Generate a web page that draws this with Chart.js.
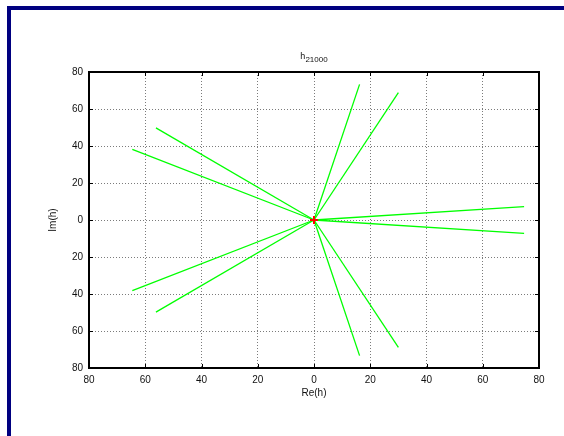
<!DOCTYPE html>
<html>
<head>
<meta charset="utf-8">
<script src="https://cdn.jsdelivr.net/npm/chart.js@4"></script>
<style>
  html, body { margin: 0; padding: 0; background: #fff; }
  #wrap { position: relative; width: 564px; height: 436px; overflow: hidden; }
  #frame {
    position: absolute; left: 7px; top: 6px; width: 600px; height: 500px;
    border-top: 4px solid #000080; border-left: 4px solid #000080;
    pointer-events: none;
  }
  canvas { position: absolute; left: 0; top: 0; }
</style>
</head>
<body>
<div id="wrap">
  <canvas id="c" width="564" height="436"></canvas>
  <div id="frame"></div>
</div>
<script>
// Roots of h plotted as rays from the origin in the complex plane
const reParts = [-56.2, -64.6, 16.2, 30.0, 74.7, 74.7, 30.0, 16.2, -64.6, -56.2];
const imParts = [49.8, 38.2, 73.3, 68.8, 7.2, -7.2, -68.8, -73.3, -38.2, -49.8];
const origin = { x: 0, y: 0 };

// Axis ticks (labels are printed as magnitudes)
const tickValues = [-80, -60, -40, -20, 0, 20, 40, 60, 80];
const tickLabels = ['80', '60', '40', '20', '0', '20', '40', '60', '80'];

const titleMain = 'h';
const titleSub = '21000';
const xTitle = 'Re(h)';
const yTitle = 'Im(h)';

const FONT = 'Liberation Sans, Arial, Helvetica, sans-serif';

const rayDatasets = reParts.map((re, i) => ({
  data: [origin, { x: re, y: imParts[i] }],
  showLine: true,
  borderColor: '#00ff00',
  borderWidth: 1.3,
  pointRadius: 0,
  order: 1
}));

const originDataset = {
  data: [origin],
  pointStyle: 'cross',
  pointRadius: 4,
  borderColor: '#ff0000',
  backgroundColor: '#ff0000',
  borderWidth: 2,
  order: 0
};

// Box border, mirrored inward tick marks and subscripted title
const boxPlugin = {
  id: 'box',
  afterDraw(chart) {
    const { ctx, chartArea: a, scales } = chart;
    ctx.save();
    ctx.strokeStyle = '#000';
    ctx.lineWidth = 1;
    const tl = 4;
    tickValues.forEach(v => {
      const px = Math.round(scales.x.getPixelForValue(v)) + 0.5;
      const py = Math.round(scales.y.getPixelForValue(v)) + 0.5;
      ctx.beginPath();
      ctx.moveTo(px, a.bottom); ctx.lineTo(px, a.bottom - tl);
      ctx.moveTo(px, a.top); ctx.lineTo(px, a.top + tl);
      ctx.moveTo(a.left, py); ctx.lineTo(a.left + tl, py);
      ctx.moveTo(a.right, py); ctx.lineTo(a.right - tl, py);
      ctx.stroke();
    });
    ctx.lineWidth = 2;
    ctx.strokeRect(a.left, a.top, a.right - a.left, a.bottom - a.top);

    // title
    ctx.fillStyle = '#111';
    ctx.textBaseline = 'alphabetic';
    ctx.font = '9px ' + FONT;
    const wMain = ctx.measureText(titleMain).width;
    ctx.font = '8px ' + FONT;
    const wSub = ctx.measureText(titleSub).width;
    const cx = (a.left + a.right) / 2;
    const x0 = cx - (wMain + wSub) / 2;
    ctx.font = '9px ' + FONT;
    ctx.textAlign = 'left';
    ctx.fillText(titleMain, x0, 59);
    ctx.font = '8px ' + FONT;
    ctx.fillText(titleSub, x0 + wMain, 61.5);
    ctx.restore();
  }
};

const gridOpts = {
  color: 'rgba(90,90,90,0.8)',
  lineWidth: 1,
  drawTicks: false
};

new Chart(document.getElementById('c'), {
  type: 'scatter',
  data: { datasets: [originDataset, ...rayDatasets] },
  options: {
    responsive: false,
    animation: false,
    events: [],
    layout: { padding: { left: 0, right: 25, top: 72, bottom: 0 } },
    plugins: { legend: { display: false }, tooltip: { enabled: false }, title: { display: false } },
    scales: {
      x: {
        type: 'linear',
        min: -80, max: 80,
        afterFit(s) { s.height = 68; },
        afterBuildTicks(s) { s.ticks = tickValues.map(v => ({ value: v })); },
        ticks: {
          padding: 6,
          color: '#111',
          font: { family: FONT, size: 10 },
          maxRotation: 0,
          callback(v) { return tickLabels[tickValues.indexOf(v)]; }
        },
        grid: gridOpts,
        border: { display: false, dash: [1, 2] },
        title: {
          display: true, text: xTitle, color: '#111',
          font: { family: FONT, size: 10 },
          padding: { top: 0, bottom: 37 }
        }
      },
      y: {
        type: 'linear',
        min: -80, max: 80,
        afterFit(s) { s.width = 89; },
        afterBuildTicks(s) { s.ticks = tickValues.map(v => ({ value: v })); },
        ticks: {
          padding: 6,
          color: '#111',
          font: { family: FONT, size: 10 },
          callback(v) { return tickLabels[tickValues.indexOf(v)]; }
        },
        grid: gridOpts,
        border: { display: false, dash: [1, 2] },
        title: {
          display: true, text: yTitle, color: '#111',
          font: { family: FONT, size: 10 },
          padding: { top: 47, bottom: 0 }
        }
      }
    }
  },
  plugins: [boxPlugin]
});
</script>
</body>
</html>
